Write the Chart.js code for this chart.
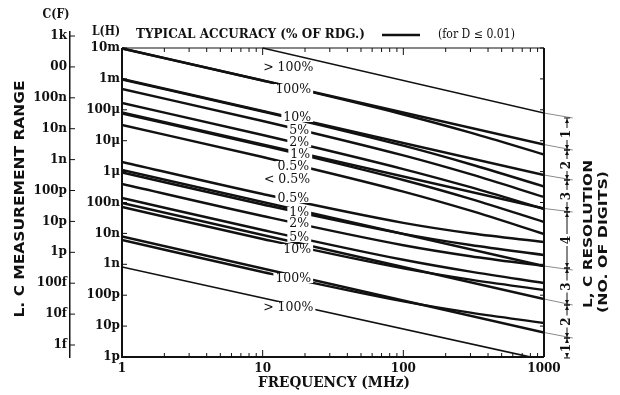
<!DOCTYPE html>
<html>
<head>
<meta charset="utf-8">
<script src="https://cdn.jsdelivr.net/npm/chart.js@4.4.1/dist/chart.umd.min.js"></script>
<style>
html,body{margin:0;padding:0;background:#fff;}
canvas{display:block;}
</style>
</head>
<body>
<canvas id="chart" width="620" height="395"></canvas>
<script>
// ---------------- data ----------------
const freqTicks = [1, 10, 100, 1000];
const freqTickLabels = ['1', '10', '100', '1000'];
const lTicks = [1e-12, 1e-11, 1e-10, 1e-9, 1e-8, 1e-7, 1e-6, 1e-5, 1e-4, 1e-3, 1e-2];
const lTickLabels = ['1p', '10p', '100p', '1n', '10n', '100n', '1μ', '10μ', '100μ', '1m', '10m'];
const cTicks = [1e-15, 1e-14, 1e-13, 1e-12, 1e-11, 1e-10, 1e-9, 1e-8, 1e-7, 1e-6, 1e-5];
const cTickLabels = ['1f', '10f', '100f', '1p', '10p', '100p', '1n', '10n', '100n', '00', '1k'];

// straight constant-impedance boundaries: [frequency (MHz), L (H)]
const upperLimit = [[10, 1.0e-2], [1000, 7.87e-5]];
const straight100 = [[1, 9.64e-3], [1000, 7.53e-6]];
const straight10 = [[1, 9.93e-4], [1000, 7.76e-7]];
const straight1 = [[1, 8.18e-5], [1000, 6.4e-8]];
const straightLow1 = [[1, 1.13e-6], [1000, 8.81e-10]];
const straightLow10 = [[1, 9.64e-8], [1000, 7.53e-11]];
const straightLow100 = [[1, 7.94e-9], [1000, 6.21e-12]];
const lowerLimit = [[1, 8.18e-10], [1000, 8.0e-13]];

// typical accuracy curves: [frequency (MHz), L (H)]
const upper100 = [[1, 9.64e-3], [10, 8.87e-4], [100, 7.05e-5], [300, 1.82e-5], [1000, 3.57e-6]];
const upper10 = [[1, 9.57e-4], [10, 8.81e-5], [100, 6.89e-6], [300, 1.73e-6], [1000, 3.30e-7]];
const upper5 = [[1, 4.71e-4], [10, 4.35e-5], [100, 3.34e-6], [300, 8.24e-7], [1000, 1.51e-7]];
const upper2 = [[1, 1.66e-4], [10, 1.53e-5], [100, 1.21e-6], [300, 3.13e-7], [1000, 6.17e-8]];
const upper1 = [[1, 7.59e-5], [10, 7.0e-6], [100, 5.35e-7], [300, 1.31e-7], [1000, 2.34e-8]];
const upper05 = [[1, 3.22e-5], [10, 2.96e-6], [100, 2.25e-7], [300, 5.43e-8], [1000, 9.57e-9]];
const lower05 = [[1, 2.05e-6], [10, 1.88e-7], [100, 2.2e-8], [300, 1.01e-8], [1000, 5.27e-9]];
const lower1 = [[1, 9.35e-7], [10, 8.61e-8], [100, 9.7e-9], [300, 4.22e-9], [1000, 2.0e-9]];
const lower2 = [[1, 3.97e-7], [10, 3.66e-8], [100, 4.15e-9], [300, 1.83e-9], [1000, 8.81e-10]];
const lower5 = [[1, 1.4e-7], [10, 1.29e-8], [100, 1.4e-9], [300, 5.77e-10], [1000, 2.48e-10]];
const lower10 = [[1, 7.14e-8], [10, 6.59e-9], [100, 7.36e-10], [300, 3.18e-10], [1000, 1.47e-10]];
const lower100 = [[1, 6.11e-9], [10, 5.64e-10], [100, 6.3e-11], [300, 2.72e-11], [1000, 1.26e-11]];

// resolution guide lines beyond 1000 MHz
const guideLines = [
  [[1000, 7.87e-5], [1600, 5.43e-5]],
  [[1000, 7.53e-6], [1600, 5.0e-6]],
  [[1000, 7.76e-7], [1600, 5.35e-7]],
  [[1000, 6.4e-8], [1600, 4.93e-8]],
  [[1000, 8.81e-10], [1600, 6.54e-10]],
  [[1000, 7.53e-11], [1600, 4.82e-11]],
  [[1000, 6.21e-12], [1600, 4.12e-12]]
];
const resolutionBounds = [5.43e-5, 5.0e-6, 5.35e-7, 4.93e-8, 7.58e-10, 4.82e-11, 4.12e-12, 9.3e-13];
const resolutionDigits = ['1', '2', '3', '4', '3', '2', '1'];

// accuracy labels: [text, frequency (MHz), L (H)]
const accuracyLabels = [
  ['> 100%', 15.2, 2.43e-3],
  ['100%', 16.5, 4.71e-4],
  ['10%', 17.6, 5.85e-5],
  ['5%', 18.2, 2.22e-5],
  ['2%', 18.2, 9.07e-6],
  ['1%', 18.5, 3.72e-6],
  ['0.5%', 16.5, 1.52e-6],
  ['< 0.5%', 14.9, 5.75e-7],
  ['0.5%', 16.5, 1.4e-7],
  ['1%', 18.2, 4.93e-8],
  ['2%', 18.2, 2.17e-8],
  ['5%', 18.2, 7.64e-9],
  ['10%', 17.6, 3.13e-9],
  ['100%', 16.5, 3.6e-10],
  ['> 100%', 15.2, 4.15e-11]
];

// ---------------- chart ----------------
const INK = '#111111';
const straights = [straight100, straight10, straight1, straightLow1, straightLow10, straightLow100];
const curves = [upper100, upper10, upper5, upper2, upper1, upper05,
  lower05, lower1, lower2, lower5, lower10, lower100];
const toXY = arr => arr.map(p => ({x: p[0], y: p[1]}));
const datasets = [];
datasets.push({data: toXY(upperLimit), borderColor: INK, borderWidth: 1.3});
straights.forEach(d => datasets.push({data: toXY(d), borderColor: INK, borderWidth: 2.4}));
curves.forEach(d => datasets.push({data: toXY(d), borderColor: INK, borderWidth: 2.4, cubicInterpolationMode: 'monotone'}));
datasets.push({data: toXY(lowerLimit), borderColor: INK, borderWidth: 1.7});
guideLines.forEach(d => datasets.push({data: toXY(d), borderColor: '#8a8a8a', borderWidth: 1, clip: false}));
datasets.forEach(d => { d.pointRadius = 0; d.fill = false; d.yAxisID = 'yL'; });

function drawText(ctx, s, x, y, font, width, rot, align) {
  ctx.save();
  ctx.translate(x, y);
  if (rot) ctx.rotate(rot);
  ctx.font = font;
  ctx.textBaseline = 'middle';
  ctx.textAlign = align || 'center';
  if (width) { const w = ctx.measureText(s).width; ctx.scale(width / w, 1); }
  ctx.fillText(s, 0, 0);
  ctx.restore();
}

const deco = {
  id: 'deco',
  afterDatasetsDraw(chart) {
    const ctx = chart.ctx;
    const xs = chart.scales.x, ys = chart.scales.yL, cs = chart.scales.yC;
    const X = f => xs.getPixelForValue(f), Y = l => ys.getPixelForValue(l);
    const left = X(1), right = X(1000), top = Y(1e-2), bottom = Y(1e-12);
    ctx.save();
    ctx.fillStyle = INK;
    ctx.strokeStyle = INK;
    // labels on lines
    accuracyLabels.forEach(a => {
      const px = X(a[1]), py = Y(a[2]);
      ctx.font = '12.5px "DejaVu Serif"';
      const w = ctx.measureText(a[0]).width;
      ctx.fillStyle = '#fff';
      ctx.fillRect(px - w / 2 - 2, py - 5, w + 4, 10);
      ctx.fillStyle = INK;
      drawText(ctx, a[0], px, py + 0.5, '12.5px "DejaVu Serif"');
    });
    // frame
    ctx.lineWidth = 1.2;
    ctx.beginPath(); ctx.moveTo(left, top); ctx.lineTo(right, top); ctx.stroke();
    ctx.lineWidth = 2;
    ctx.beginPath(); ctx.moveTo(left, top); ctx.lineTo(left, bottom); ctx.lineTo(right, bottom); ctx.stroke();
    ctx.beginPath(); ctx.moveTo(right, top); ctx.lineTo(right, bottom); ctx.stroke();
    // frequency minor ticks top & bottom
    ctx.lineWidth = 1;
    [1, 10, 100].forEach(d => {
      for (let m = 2; m <= 10; m++) {
        const x = X(d * m);
        const len = m === 10 ? 7 : 4;
        ctx.beginPath(); ctx.moveTo(x, top); ctx.lineTo(x, top + len); ctx.stroke();
        ctx.beginPath(); ctx.moveTo(x, bottom); ctx.lineTo(x, bottom - len); ctx.stroke();
      }
    });
    // L decade ticks
    lTicks.forEach(v => {
      const y = Y(v);
      ctx.beginPath(); ctx.moveTo(left, y); ctx.lineTo(left + 5, y); ctx.stroke();
      ctx.beginPath(); ctx.moveTo(right, y); ctx.lineTo(right - 4, y); ctx.stroke();
    });
    // C decade ticks
    cTicks.forEach(v => {
      const y = cs.getPixelForValue(v);
      ctx.beginPath(); ctx.moveTo(cs.right, y); ctx.lineTo(cs.right + 5, y); ctx.stroke();
    });
    // resolution scale
    const xm = 567;
    for (let i = 0; i < resolutionDigits.length; i++) {
      const y1 = Y(resolutionBounds[i]), y2 = Y(resolutionBounds[i + 1]);
      const ym = (y1 + y2) / 2;
      ctx.lineWidth = 1;
      ctx.beginPath(); ctx.moveTo(xm - 3, y1); ctx.lineTo(xm + 3, y1); ctx.stroke();
      ctx.beginPath(); ctx.moveTo(xm - 3, y2); ctx.lineTo(xm + 3, y2); ctx.stroke();
      ctx.beginPath(); ctx.moveTo(xm, y1); ctx.lineTo(xm, ym - 6); ctx.moveTo(xm, ym + 6); ctx.lineTo(xm, y2); ctx.stroke();
      ctx.beginPath(); ctx.moveTo(xm, y1 + 1); ctx.lineTo(xm - 2, y1 + 5); ctx.lineTo(xm + 2, y1 + 5); ctx.closePath(); ctx.fill();
      ctx.beginPath(); ctx.moveTo(xm, y2 - 1); ctx.lineTo(xm - 2, y2 - 5); ctx.lineTo(xm + 2, y2 - 5); ctx.closePath(); ctx.fill();
      drawText(ctx, resolutionDigits[i], xm, ym, 'bold 12px "DejaVu Serif"', 0, -Math.PI / 2);
    }
    // titles
    drawText(ctx, 'C(F)', 56, 15, 'bold 13px "DejaVu Serif"', 27);
    drawText(ctx, 'L(H)', 106, 32, 'bold 13px "DejaVu Serif"', 28);
    drawText(ctx, 'TYPICAL ACCURACY (% OF RDG.)', 250.5, 35, 'bold 13px "DejaVu Serif"', 229);
    ctx.lineWidth = 2.5;
    ctx.beginPath(); ctx.moveTo(382, 35); ctx.lineTo(420, 35); ctx.stroke();
    drawText(ctx, '(for D ≤ 0.01)', 476.5, 35, '12px "DejaVu Serif"', 77);
    drawText(ctx, 'FREQUENCY (MHz)', 334, 383, 'bold 14px "DejaVu Serif"', 152);
    drawText(ctx, 'L. C MEASUREMENT RANGE', 20, 199, 'bold 14px "DejaVu Sans"', 237, -Math.PI / 2);
    drawText(ctx, 'L, C RESOLUTION', 589, 234, 'bold 13px "DejaVu Sans"', 148, -Math.PI / 2);
    drawText(ctx, '(NO. OF DIGITS)', 604, 242, 'bold 13px "DejaVu Sans"', 142, -Math.PI / 2);
    ctx.restore();
  }
};

const tickFont = {family: 'DejaVu Serif', weight: 'bold', size: 12};
new Chart(document.getElementById('chart'), {
  type: 'line',
  data: {datasets},
  plugins: [deco],
  options: {
    responsive: false,
    animation: false,
    devicePixelRatio: 1,
    plugins: {legend: {display: false}, tooltip: {enabled: false}},
    layout: {padding: {left: 0, right: 76, top: 32, bottom: 0}},
    scales: {
      x: {
        type: 'logarithmic', min: 1, max: 1000, position: 'bottom',
        afterBuildTicks: s => { s.ticks = freqTicks.map(v => ({value: v})); },
        afterFit: s => { s.height = 38; },
        grid: {display: false, drawTicks: false},
        border: {display: false},
        ticks: {autoSkip: false, maxRotation: 0, padding: 5, color: INK, font: tickFont,
          callback: (v, i) => freqTickLabels[i]}
      },
      yL: {
        type: 'logarithmic', position: 'left', weight: 0,
        min: 1e-12, max: Math.pow(10, -1.482),
        afterBuildTicks: s => { s.ticks = lTicks.map(v => ({value: v})); },
        afterFit: s => { s.width = 52; },
        grid: {display: false, drawTicks: false},
        border: {display: false},
        ticks: {autoSkip: false, padding: 2, color: INK, font: tickFont,
          callback: (v, i) => lTickLabels[i]}
      },
      yC: {
        type: 'logarithmic', position: 'left', weight: 1,
        min: Math.pow(10, -15.388), max: Math.pow(10, -4.87),
        afterBuildTicks: s => { s.ticks = cTicks.map(v => ({value: v})); },
        afterFit: s => { s.width = 70; },
        grid: {display: false, drawTicks: false},
        border: {display: true, color: INK, width: 1.5},
        ticks: {autoSkip: false, padding: 3, color: INK, font: tickFont,
          callback: (v, i) => cTickLabels[i]}
      }
    }
  }
});
</script>
</body>
</html>
